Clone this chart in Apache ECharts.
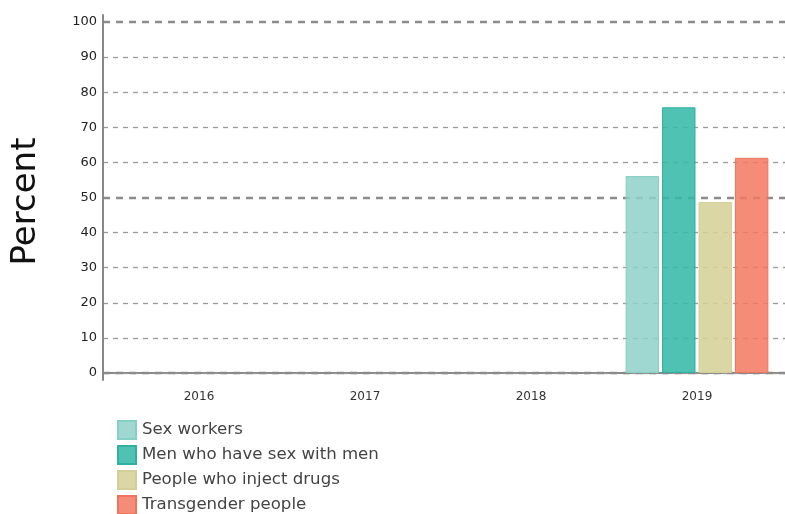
<!DOCTYPE html>
<html><head><meta charset="utf-8">
<script src="https://cdn.jsdelivr.net/npm/echarts@6/dist/echarts.min.js"></script>
<style>html,body{margin:0;padding:0;background:#fff}#c{width:785px;height:514px}</style>
</head><body><div id="c"></div>
<script>
const categories = ['2016', '2017', '2018', '2019'];
const seriesNames = ['Sex workers', 'Men who have sex with men', 'People who inject drugs', 'Transgender people'];
const sexWorkers = [null, null, null, 56.1];
const msm = [null, null, null, 75.7];
const pwid = [null, null, null, 48.7];
const transgender = [null, null, null, 61.3];
const yTicks = [0, 10, 20, 30, 40, 50, 60, 70, 80, 90, 100];

const fills = ['rgba(142,209,200,0.85)', 'rgba(56,185,170,0.88)', 'rgba(214,210,152,0.88)', 'rgba(243,120,96,0.85)'];
const borders = ['#86cfc6', '#2fb0a0', '#d3cf98', '#f0735c'];
const values = [sexWorkers, msm, pwid, transgender];

// thin grid line colours per tick (0..100); 50 and 100 get the heavy line instead
const thinColors = yTicks.map(v => (v % 50 === 0 && v !== 0) ? 'rgba(0,0,0,0)' : '#9a9a9a');

const chart = echarts.init(document.getElementById('c'));
const txt = '#333';
chart.setOption({
  animation: false,
  textStyle: { fontFamily: 'DejaVu Sans' },
  legend: {
    orient: 'vertical', left: 117, top: 420, height: 120, padding: 0,
    itemWidth: 18, itemHeight: 18, itemGap: 5,
    icon: 'rect',
    textStyle: { fontSize: 16.6, lineHeight: 18, color: '#444', fontFamily: 'DejaVu Sans', padding: [0, 0, 0, 1] },
    data: seriesNames
  },
  grid: [
    { left: 116, right: 5, top: 22, bottom: 141 },
    { left: 103, right: 0, top: 22, bottom: 141 },
    { left: 103, right: 0, top: 15, bottom: 134 }
  ],
  xAxis: [
    { type: 'category', gridIndex: 0, data: categories,
      axisLine: { show: false }, axisTick: { show: false },
      axisLabel: { color: txt, fontSize: 12, margin: 18, fontFamily: 'DejaVu Sans' } },
    { type: 'value', gridIndex: 1, min: 0, max: 1,
      axisLine: { show: true, onZero: false, lineStyle: { color: '#888', width: 2 } },
      axisTick: { show: false }, axisLabel: { show: false }, splitLine: { show: false } },
    { type: 'value', gridIndex: 2, min: 0, max: 1, show: false }
  ],
  yAxis: [
    { type: 'value', gridIndex: 0, min: 0, max: 100, show: false, splitLine: { show: false } },
    { type: 'value', gridIndex: 1, min: 0, max: 100, interval: 10, z: 1,
      name: 'Percent', nameLocation: 'middle', nameGap: 60,
      nameTextStyle: { fontSize: 34, color: '#111', fontFamily: 'DejaVu Sans', padding: [0, 8, 0, 0] },
      axisLine: { show: false },
      axisTick: { show: false },
      axisLabel: { color: '#222', fontSize: 13, margin: 6, fontFamily: 'DejaVu Sans',
        formatter: v => yTicks.includes(v) ? String(v) : '' },
      splitLine: { show: true, lineStyle: { color: thinColors, width: 1.3, type: [5, 5] } } },
    { type: 'value', gridIndex: 1, min: 0, max: 100, interval: 50, z: 3,
      axisLine: { show: false }, axisTick: { show: false }, axisLabel: { show: false },
      splitLine: { show: true, lineStyle: { color: '#8c8c8c', width: 2.3, type: [7, 6] } } },
    { type: 'value', gridIndex: 2, min: 0, max: 1, z: 4,
      axisLine: { show: true, onZero: false, lineStyle: { color: '#888', width: 2 } },
      axisTick: { show: false }, axisLabel: { show: false }, splitLine: { show: false } }
  ],
  series: seriesNames.map((n, i) => ({
    name: n, type: 'bar', xAxisIndex: 0, yAxisIndex: 0, data: values[i],
    barGap: '9%', barCategoryGap: '14%', z: 5,
    itemStyle: { color: fills[i], borderColor: borders[i], borderWidth: 1 }
  })).concat([
    { type: 'line', xAxisIndex: 1, yAxisIndex: 1, data: [], silent: true },
    { type: 'line', xAxisIndex: 2, yAxisIndex: 3, data: [], silent: true }
  ])
});
</script></body></html>
